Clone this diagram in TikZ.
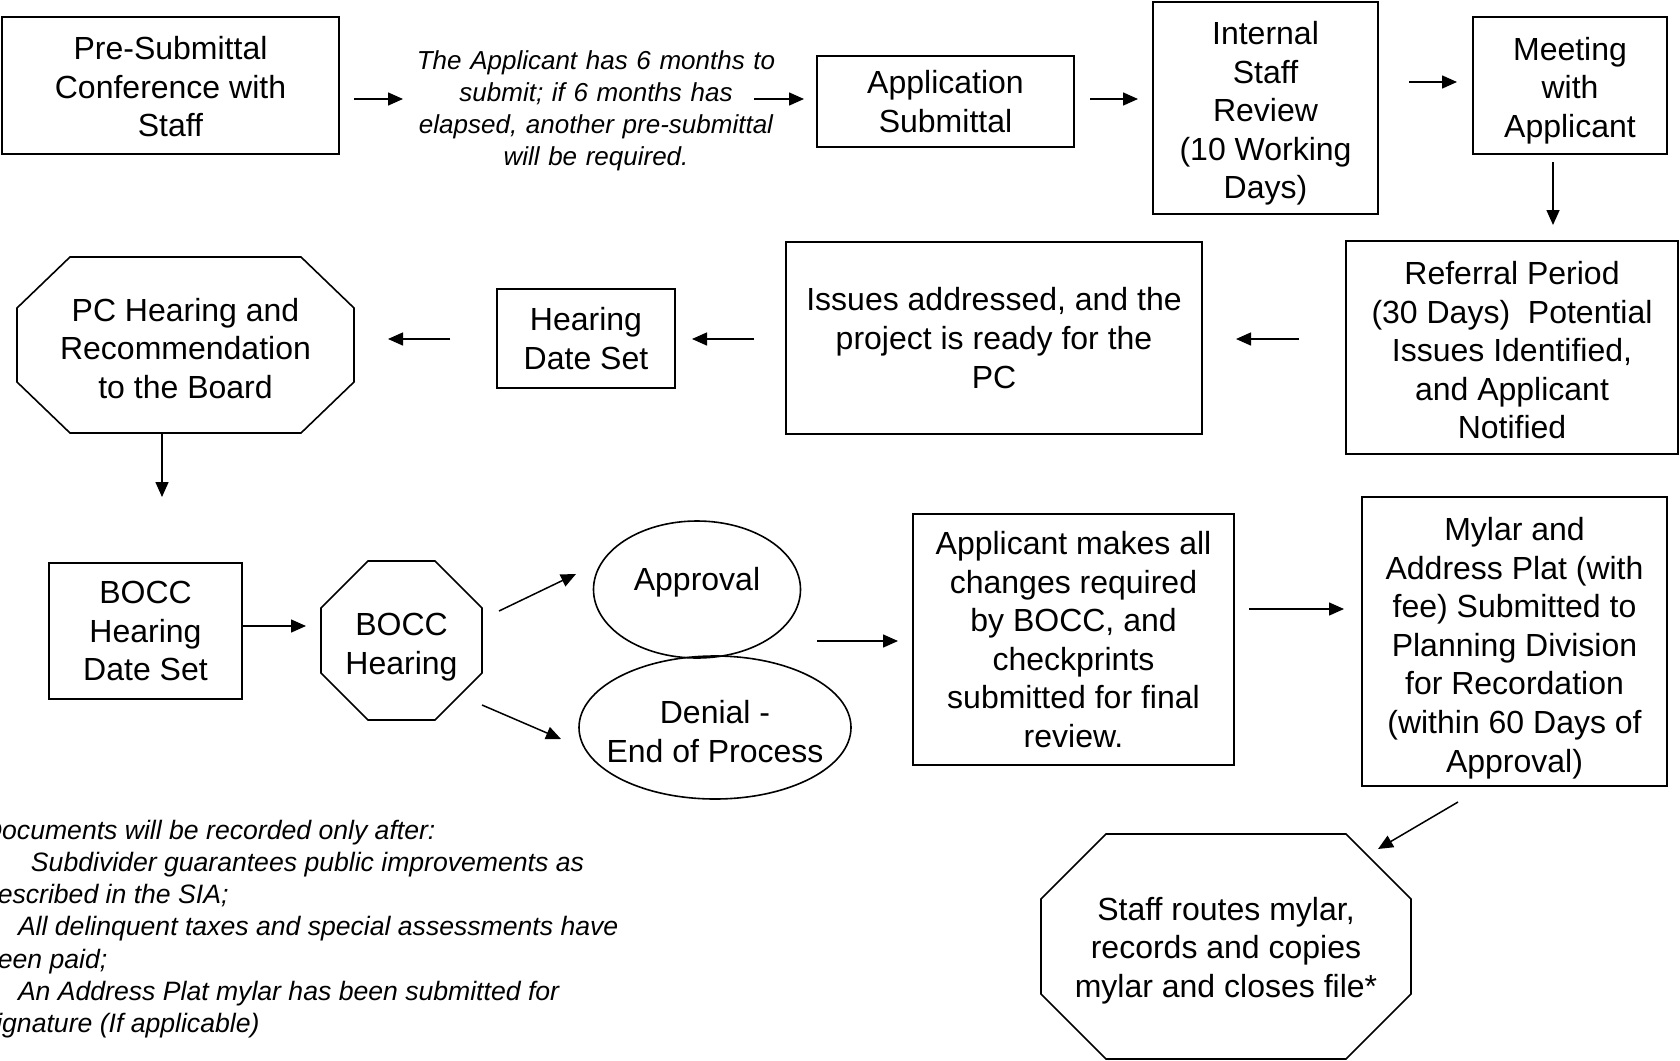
\documentclass[tikz,border=0pt]{standalone}
\usepackage{fontspec}
\setmainfont{Liberation Sans}
\usetikzlibrary{arrows.meta}
\tikzset{
  x=0.5pt, y=-0.5pt,
  box/.style={draw, line width=1pt, rectangle, align=center, inner sep=0pt, outer sep=0pt,
    font=\fontsize{16}{19.3}\selectfont},
  plain/.style={rectangle, align=center, inner sep=0pt, outer sep=0pt,
    font=\fontsize{16}{19.3}\selectfont},
  shapeline/.style={line width=0.8pt},
  arr/.style={-{Triangle[length=7.5pt,width=6.5pt]}, line width=0.75pt},
  notetext/.style={align=center, inner sep=0pt, outer sep=0pt, text width=180pt,
    font=\fontsize{13}{16}\selectfont\itshape},
}
% push text block down / up inside its node
\newcommand\dn[1]{\rule{0pt}{#1}}
\newcommand\up[1]{\rule[-#1]{0pt}{0pt}}
\newcommand\octdraw[3]{\draw[shapeline] ([xshift=#2]#1.north west) -- ([xshift=-#2]#1.north east)
  -- ([yshift=-#3]#1.north east) -- ([yshift=#3]#1.south east)
  -- ([xshift=-#2]#1.south east) -- ([xshift=#2]#1.south west)
  -- ([yshift=#3]#1.south west) -- ([yshift=-#3]#1.north west) -- cycle;}
\begin{document}
\begin{tikzpicture}
\useasboundingbox (0,0) rectangle (1680,1060);
\clip (0,0) rectangle (1680,1060);
\fill[white] (0,0) rectangle (1680,1060);

% row 1
\node[box, minimum width=168.5pt, minimum height=68.5pt] (pre) at (170.5,85.5)
  {\dn{12.8pt}Pre-Submittal\\Conference with\\Staff};
\node[notetext] (note) at (596,111)
  {The Applicant has 6 months to\\submit; if 6 months has\\elapsed, another pre-submittal\\will be required.};
\node[box, minimum width=128.5pt, minimum height=45.5pt] (appsub) at (945.5,101.5)
  {Application\\Submittal};
\node[box, minimum width=112.5pt, minimum height=106pt] (isr) at (1265.5,108)
  {\dn{17.1pt}Internal\\Staff\\Review\\(10 Working\\Days)};
\node[box, minimum width=97pt, minimum height=68.5pt] (meet) at (1570,85.5)
  {\dn{16.5pt}Meeting\\with\\Applicant};

% row 2
\node[box, minimum width=166pt, minimum height=106.5pt] (ref) at (1512,347.5)
  {\dn{14.4pt}Referral Period\\(30 Days)\ \ Potential\\Issues Identified,\\and Applicant\\Notified};
\node[box, minimum width=208pt, minimum height=96pt] (issues) at (994,338)
  {Issues addressed, and the\\project is ready for the\\PC};
\node[box, minimum width=89pt, minimum height=49.5pt] (hds) at (586,338.5)
  {Hearing\\Date Set};
\node[plain, minimum width=168.5pt, minimum height=88pt] (pc) at (185.5,345)
  {\dn{14.9pt}PC Hearing and\\Recommendation\\to the Board};
\octdraw{pc}{26.5pt}{25.5pt}

% row 3
\node[box, minimum width=96.5pt, minimum height=68pt] (bds) at (145.5,631)
  {BOCC\\Hearing\\Date Set};
\node[plain, minimum width=80.5pt, minimum height=79.5pt] (bh) at (401.5,640.5)
  {\dn{17.6pt}BOCC\\Hearing};
\octdraw{bh}{23.5pt}{23.5pt}
\node[plain, minimum width=103.5pt, minimum height=68.5pt] (appr) at (697,589.5)
  {Approval\up{10.9pt}};
\draw[shapeline] (appr.center) ellipse [x radius=51.75pt, y radius=34.25pt];
\node[plain, minimum width=136pt, minimum height=71.5pt] (den) at (715,727.5)
  {\dn{15.5pt}Denial -\\End of Process};
\draw[shapeline] (den.center) ellipse [x radius=68pt, y radius=35.75pt];
\node[box, minimum width=160.5pt, minimum height=125.5pt] (chg) at (1073.5,639.5)
  {Applicant makes all\\changes required\\by BOCC, and\\checkprints\\submitted for final\\review.};
\node[box, minimum width=152.5pt, minimum height=144.5pt] (mylar) at (1514.5,641.5)
  {\dn{18.1pt}Mylar and\\Address Plat (with\\fee) Submitted to\\Planning Division\\for Recordation\\(within 60 Days of\\Approval)};
\node[plain, minimum width=185pt, minimum height=112.5pt] (staff) at (1226,946.5)
  {\dn{15.5pt}Staff routes mylar,\\records and copies\\mylar and closes file*};
\octdraw{staff}{32.5pt}{32.5pt}

% footnote
\node[anchor=north west, align=left, inner sep=0pt, outer sep=0pt,
  font=\fontsize{13.3}{16.1}\selectfont\itshape] (foot) at (-17,820)
  {Documents will be recorded only after:\\
   \hspace*{24pt}Subdivider guarantees public improvements as\\
   described in the SIA;\\
   \hspace*{17.5pt}All delinquent taxes and special assessments have\\
   been paid;\\
   \hspace*{17.5pt}An Address Plat mylar has been submitted for\\
   signature (If applicable)};

% connectors
\draw[arr] ([shift={(15,13.5)}]pre.east) -- ([shift={(-13,-12)}]note.west);
\draw[arr] ([shift={(-22,-12)}]note.east) -- ([shift={(-13,-2.5)}]appsub.west);
\draw[arr] ([shift={(16,-2.5)}]appsub.east) -- ([shift={(-15,-9)}]isr.west);
\draw[arr] ([shift={(31,-26)}]isr.east) -- ([shift={(-16,-3.5)}]meet.west);
\draw[arr] ([shift={(-17,8)}]meet.south) -- ([shift={(41,-16)}]ref.north);
\draw[arr] ([shift={(-47,-8.5)}]ref.west) -- ([shift={(34,1)}]issues.east);
\draw[arr] ([shift={(-32,1)}]issues.west) -- ([shift={(17,0.5)}]hds.east);
\draw[arr] ([shift={(-47,0.5)}]hds.west) -- ([shift={(34,-6)}]pc.east);
\draw[arr] ([shift={(-23.5,0)}]pc.south) -- ([shift={(16.5,-66)}]bds.north);
\draw[arr] ([shift={(0,-5)}]bds.east) -- ([shift={(-15,-14.5)}]bh.west);
\draw[arr] ([shift={(97.5,-29.5)}]bh.center) -- ([shift={(-17.5,-15.5)}]appr.west);
\draw[arr] ([shift={(80.5,64.5)}]bh.center) -- ([shift={(-18,11.5)}]den.west);
\draw[arr] ([shift={(16.5,51.5)}]appr.east) -- ([shift={(-15,1.5)}]chg.west);
\draw[arr] ([shift={(15,-30.5)}]chg.east) -- ([shift={(-18,-32.5)}]mylar.west);
\draw[arr] ([shift={(-56.5,16)}]mylar.south) -- ([shift={(152,-97.5)}]staff.center);
\end{tikzpicture}
\end{document}
